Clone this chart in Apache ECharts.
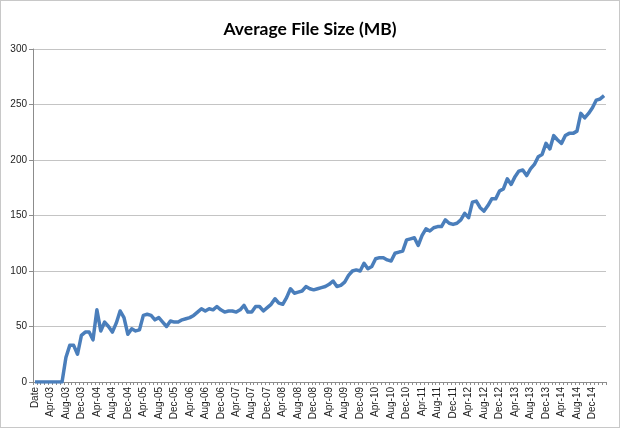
<!DOCTYPE html>
<html>
<head>
<meta charset="utf-8">
<script src="https://cdn.jsdelivr.net/npm/echarts@6/dist/echarts.min.js"></script>
<style>
html,body{margin:0;padding:0;background:#fff;}
#c{width:618px;height:426px;border:1px solid #c8c8c8;}
</style>
</head>
<body>
<div id="c"></div>
<script>
const title = "Average File Size (MB)";
const monthNames = ["Jan","Feb","Mar","Apr","May","Jun","Jul","Aug","Sep","Oct","Nov","Dec"];
const firstYear = 2003, lastYear = 2015, lastMonthOfLastYear = 3;
const categories = ["Date"];
for (let y = firstYear; y <= lastYear; y++) {
  const mMax = (y === lastYear) ? lastMonthOfLastYear : 12;
  for (let m = 0; m < mMax; m++) categories.push(monthNames[m] + "-" + String(y % 100).padStart(2, "0"));
}
const avgFileSize = [
  0,0,0,0,0,0,0,0,
  22,33,33,25,42,45,45,38,65,46,54,50,45,53,64,58,43,48,46,47,60,61,
  60,56,58,54,50,55,54,54,56,57,58,60,63,66,64,66,65,68,65,63,
  64,64,63,65,69,63,63,68,68,64,67,70,75,71,70,76,84,80,81,82,
  86,84,83,84,85,86,88,91,86,87,90,96,100,101,100,107,102,104,111,112,
  112,110,109,116,117,118,128,129,130,123,132,138,136,139,140,140,146,143,142,143,
  146,152,148,162,163,157,154,159,165,165,172,174,183,178,185,190,191,186,192,196,
  203,205,215,210,222,218,215,222,224,224,226,242,238,242,247,254,255,258
];
const yMin = 0, yMax = 300, yStep = 50;

const chart = echarts.init(document.getElementById('c'));
chart.setOption({
  animation: false,
  title: {
    text: title, left: 'center', top: 14,
    textStyle: {fontFamily: 'Lato', fontWeight: 'bold', fontSize: 17.5, color: '#000'}
  },
  grid: {left: 32, right: 13, top: 48, bottom: 45},
  xAxis: {
    type: 'category',
    data: categories,
    boundaryGap: true,
    axisLine: {lineStyle: {color: '#8c8c8c', width: 1}},
    axisTick: {show: true, interval: 0, length: 3, lineStyle: {color: '#8c8c8c'}},
    axisLabel: {interval: 3, rotate: 90, fontSize: 10, color: '#222', fontFamily: 'Liberation Sans Narrow, Liberation Sans', margin: 5}
  },
  yAxis: {
    type: 'value', min: yMin, max: yMax, interval: yStep,
    axisLine: {show: true, lineStyle: {color: '#8c8c8c'}},
    axisTick: {show: true, length: 4, lineStyle: {color: '#8c8c8c'}},
    axisLabel: {fontSize: 10, color: '#222', fontFamily: 'Liberation Sans', margin: 6},
    splitLine: {lineStyle: {color: '#c4c4c4', width: 1.2}}
  },
  series: [{
    type: 'line',
    data: avgFileSize,
    showSymbol: false,
    lineStyle: {color: '#4a7ebb', width: 3.5, join: 'round'},
    itemStyle: {color: '#4a7ebb'}
  }]
});
</script>
</body>
</html>
